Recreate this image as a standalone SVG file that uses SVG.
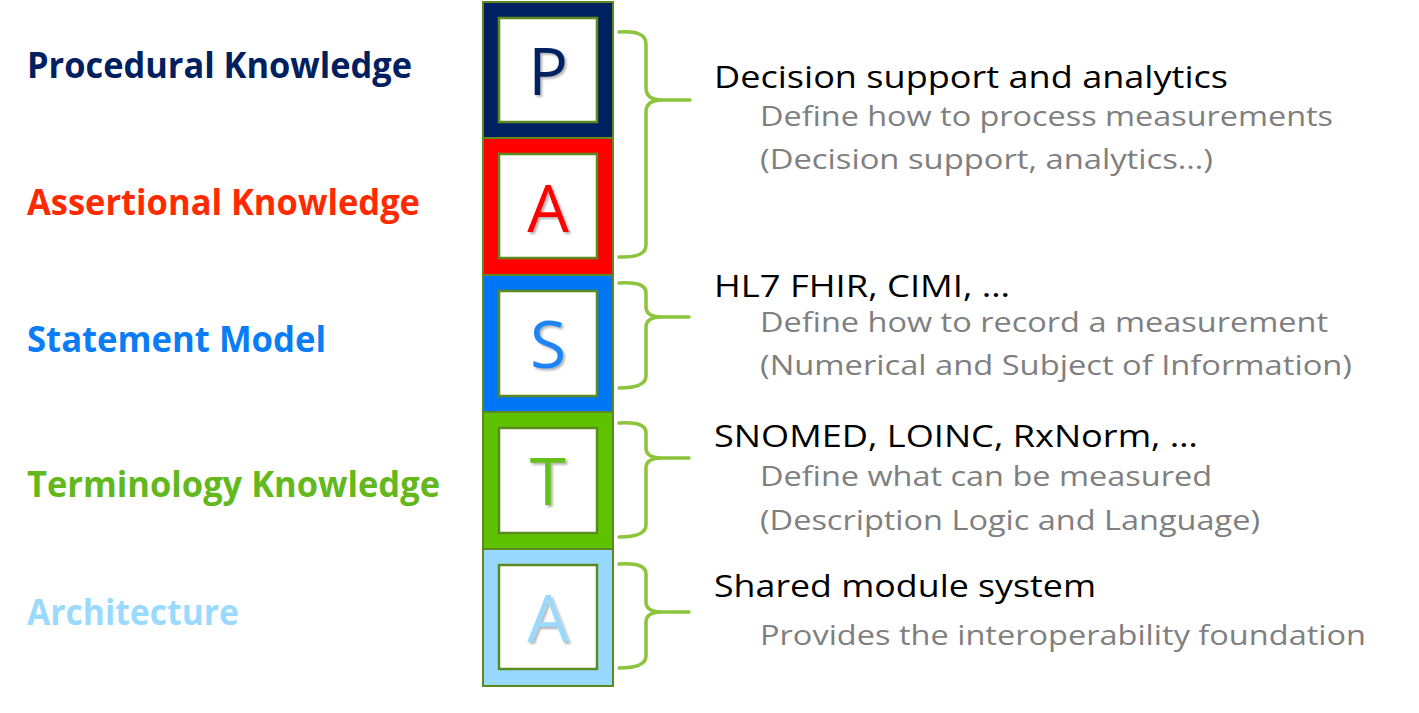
<svg xmlns="http://www.w3.org/2000/svg" width="1419" height="713" viewBox="0 0 1419 713">
<style>
.lbl{font-family:"Open Sans","Liberation Sans",sans-serif;font-weight:bold;font-size:35px}
.head{font-family:"Open Sans","Liberation Sans",sans-serif;font-size:31px;fill:#000}
.sub{font-family:"Open Sans","Liberation Sans",sans-serif;font-size:28px;fill:#7f7f7f}
.outer{stroke:#5b8a1f;stroke-width:2}
.inner{fill:#fff;stroke:#5b8a1f;stroke-width:2.5}
.letter{font-family:"Open Sans","Liberation Sans",sans-serif;font-size:66px;text-anchor:middle;filter:url(#sh)}
.brace{fill:none;stroke:#8cc43c;stroke-width:3.5;stroke-linecap:round}
</style>
<defs>
<filter id="sh" x="-20%" y="-20%" width="150%" height="150%">
<feDropShadow dx="2" dy="2" stdDeviation="1.2" flood-color="#000" flood-opacity="0.3"/>
</filter>
</defs>
<rect width="1419" height="713" fill="#fff"/>

<g id="label-procedural"><text class="lbl" x="27" y="78" fill="#002060" textLength="385" lengthAdjust="spacingAndGlyphs">Procedural Knowledge</text></g>
<g id="label-assertional"><text class="lbl" x="27" y="215" fill="#ff2a00" textLength="393" lengthAdjust="spacingAndGlyphs">Assertional Knowledge</text></g>
<g id="label-statement"><text class="lbl" x="27" y="352" fill="#0a7cf5" textLength="299" lengthAdjust="spacingAndGlyphs">Statement Model</text></g>
<g id="label-terminology"><text class="lbl" x="27" y="497" fill="#63b81c" textLength="413" lengthAdjust="spacingAndGlyphs">Terminology Knowledge</text></g>
<g id="label-architecture"><text class="lbl" x="27" y="625" fill="#9bdaff" textLength="212" lengthAdjust="spacingAndGlyphs">Architecture</text></g>

<g id="block-P">
<rect class="outer" x="483" y="2" width="130" height="136" fill="#002060"/>
<rect class="inner" x="499" y="18" width="98" height="104"/>
<text class="letter" x="548" y="95" fill="#002060">P</text>
</g>
<g id="block-A1">
<rect class="outer" x="483" y="138" width="130" height="137" fill="#ff0000"/>
<rect class="inner" x="499" y="154" width="98" height="104"/>
<text class="letter" x="548" y="232" fill="#ff0000">A</text>
</g>
<g id="block-S">
<rect class="outer" x="483" y="275" width="130" height="137" fill="#0075f5"/>
<rect class="inner" x="499" y="291" width="98" height="105"/>
<text class="letter" x="548" y="368" fill="#1b84f5">S</text>
</g>
<g id="block-T">
<rect class="outer" x="483" y="412" width="130" height="137" fill="#5ec200"/>
<rect class="inner" x="499" y="428" width="98" height="105"/>
<text class="letter" x="548" y="505" fill="#66c01a">T</text>
</g>
<g id="block-A2">
<rect class="outer" x="483" y="549" width="130" height="137" fill="#99d9ff"/>
<rect class="inner" x="499" y="565" width="98" height="104"/>
<text class="letter" x="548" y="642" fill="#9bdaff">A</text>
</g>

<g id="connectors">
<path class="brace" d="M619,32 Q646,30 646,44 V88 Q646,100 662,100 H690 M662,100 Q646,100 646,112 V245 Q646,258 619,257"/>
<path class="brace" d="M619,283 Q646,281 646,293 V307 Q646,317 662,317 H689 M662,317 Q646,317 646,327 V376 Q646,388 619,388"/>
<path class="brace" d="M619,423 Q646,421 646,433 V448 Q646,458 662,458 H689 M662,458 Q646,458 646,468 V525 Q646,537 619,537"/>
<path class="brace" d="M619,564 Q646,562 646,574 V602 Q646,612 662,612 H689 M662,612 Q646,612 646,622 V656 Q646,668 619,668"/>
</g>

<g id="desc-procedural">
<text class="head" x="714" y="88" textLength="514" lengthAdjust="spacingAndGlyphs">Decision support and analytics</text>
<text class="sub" x="760" y="126" textLength="573" lengthAdjust="spacingAndGlyphs">Define how to process measurements</text>
<text class="sub" x="760" y="169" textLength="453" lengthAdjust="spacingAndGlyphs">(Decision support, analytics…)</text>
</g>
<g id="desc-statement">
<text class="head" x="714" y="297" textLength="296" lengthAdjust="spacingAndGlyphs">HL7 FHIR, CIMI, …</text>
<text class="sub" x="760" y="332" textLength="568" lengthAdjust="spacingAndGlyphs">Define how to record a measurement</text>
<text class="sub" x="760" y="375" textLength="592" lengthAdjust="spacingAndGlyphs">(Numerical and Subject of Information)</text>
</g>
<g id="desc-terminology">
<text class="head" x="714" y="447" textLength="484" lengthAdjust="spacingAndGlyphs">SNOMED, LOINC, RxNorm, …</text>
<text class="sub" x="760" y="486" textLength="452" lengthAdjust="spacingAndGlyphs">Define what can be measured</text>
<text class="sub" x="760" y="530" textLength="500" lengthAdjust="spacingAndGlyphs">(Description Logic and Language)</text>
</g>
<g id="desc-architecture">
<text class="head" x="714" y="597" textLength="382" lengthAdjust="spacingAndGlyphs">Shared module system</text>
<text class="sub" x="760" y="645" textLength="606" lengthAdjust="spacingAndGlyphs">Provides the interoperability foundation</text>
</g>
</svg>
